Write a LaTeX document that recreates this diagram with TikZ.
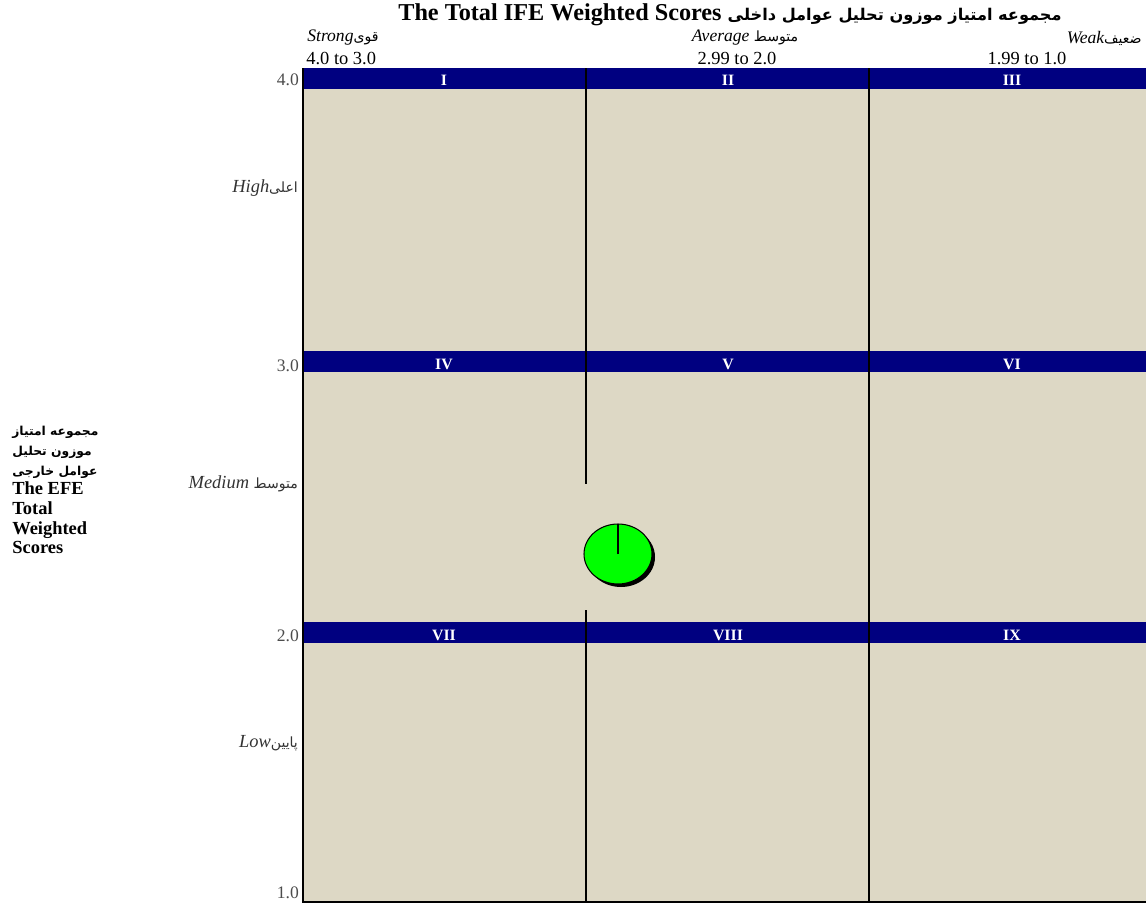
\documentclass[tikz,border=0pt]{standalone}
\usepackage{fontspec}
\setmainfont{Liberation Serif}
\newfontfamily\fafont[Script=Arabic]{DejaVu Sans}
\TeXXeTstate=1
\usepackage{tikz}
\usetikzlibrary{positioning}
\definecolor{cellbeige}{RGB}{221,216,197}
\definecolor{bandblue}{RGB}{0,0,128}
\definecolor{dotgreen}{RGB}{0,255,0}
\newcommand{\fa}[1]{{\fafont\upshape\fontsize{8}{10}\selectfont\beginR #1\endR}}

\begin{document}
\begin{tikzpicture}[x=0.02cm,y=-0.02cm,
  numeral/.style={text=white,font=\bfseries\fontsize{9}{11}\selectfont,inner sep=0pt},
  ticklab/.style={anchor=east,text=black!70,font=\fontsize{10}{12}\selectfont,inner sep=1pt},
  rowlab/.style={anchor=east,text=black!80,font=\itshape\fontsize{10.5}{12}\selectfont,inner sep=1pt},
  colhead/.style={font=\itshape\fontsize{10}{12}\selectfont,inner sep=0pt},
  colrange/.style={font=\fontsize{10.5}{12}\selectfont,inner sep=0pt}]
\useasboundingbox (0,0) rectangle (1146,906);
% matrix body
\fill[cellbeige] (303,68) rectangle (1146,902);
\foreach \y in {68,351,622}{
  \fill[bandblue] (303,\y) rectangle (1146,\y+21);
}
\draw[line width=1.3pt] (303,68) -- (303,902) -- (1146,902);
\draw[line width=1pt] (586,68) -- (586,484) (586,610) -- (586,902);
\draw[line width=1pt] (869,68) -- (869,902);
% cell numbers
\foreach \x/\y/\t [count=\i] in {444/80/I,728/80/II,1012/80/III,
  444/364/IV,728/364/V,1012/364/VI,444/635/VII,728/635/VIII,1012/635/IX}{
  \node[numeral] (cell\i) at (\x,\y) {\t};
}
% position of the firm
\fill[black] (621,557) ellipse [x radius=34, y radius=30];
\filldraw[fill=dotgreen,draw=black,line width=0.6pt] (618,554) ellipse [x radius=34, y radius=30];
\coordinate (dot) at (618,554);
\coordinate (dottop) at (618,524);
\draw[line width=1pt] (dot) -- (dottop);
% axis values
\node[ticklab] (t4) at (301,80) {4.0};
\node[ticklab] (t3) at (301,366) {3.0};
\node[ticklab] (t2) at (301,636) {2.0};
\node[ticklab] (t1) at (301,893) {1.0};
\node[rowlab] (high) at (300,188) {High\fa{اعلی}};
\node[rowlab] (medium) at (300,484) {Medium \fa{متوسط}};
\node[rowlab] (low) at (300,743) {Low\fa{پایین}};
% column heads
\node[colhead,anchor=west] (strong) at (307,38) {Strong\fa{قوی}};
\node[colhead] (average) at (745,38) {Average \fa{متوسط}};
\node[colhead,anchor=east] (weak) at (1142,38) {Weak\fa{ضعیف}};
\node[colrange,anchor=west] (r1) at (306,58) {4.0 to 3.0};
\node[colrange] (r2) at (737,58) {2.99 to 2.0};
\node[colrange] (r3) at (1027,58) {1.99 to 1.0};
% titles
\node[font=\bfseries\fontsize{13.8}{15}\selectfont,inner sep=0pt] (ife) at (730,15)
  {The Total IFE Weighted Scores {\fafont\bfseries\fontsize{9.2}{11}\selectfont\beginR مجموعه امتیاز موزون تحلیل عوامل داخلی\endR}};
\node[anchor=north west,align=left,inner sep=0pt,font=\bfseries\fontsize{10.5}{11.2}\selectfont] (efe) at (12,426)
  {{\fafont\fontsize{7}{9}\selectfont\beginR مجموعه امتیاز\endR}\\
   {\fafont\fontsize{7}{9}\selectfont\beginR موزون تحلیل\endR}\\
   {\fafont\fontsize{7}{9}\selectfont\beginR عوامل خارجی\endR}\\
   The EFE\\ Total\\ Weighted\\ Scores};
\end{tikzpicture}
\end{document}
